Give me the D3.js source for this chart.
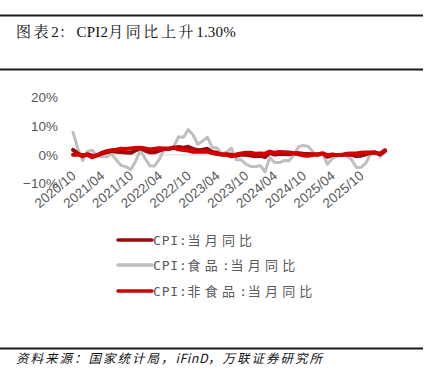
<!DOCTYPE html>
<html><head><meta charset="utf-8">
<script src="https://cdn.jsdelivr.net/npm/d3@7/dist/d3.min.js"></script>
<style>body{margin:0;background:#fff}svg{display:block}</style>
</head><body>
<script>
// ---- data ----
const startYear = 2020, startMonth = 9, nMonths = 66; // 2020/09 .. 2026/02
const months = [];
for (let i = 0; i < nMonths; i++) {
  const m = startMonth - 1 + i;
  const y = startYear + Math.floor(m / 12), mm = (m % 12) + 1;
  months.push(y + "/" + String(mm).padStart(2, "0"));
}
const tickLabels = ["2020/10","2021/04","2021/10","2022/04","2022/10","2023/04","2023/10","2024/04","2024/10","2025/04","2025/10"];
const yTicks = [-10, 0, 10, 20];
const cpi = [1.7,0.5,-0.5,0.2,
  -0.3,-0.2,0.4,0.9,1.3,1.1,1.0,0.8,0.7,1.5,2.3,1.5,
  0.9,0.9,1.5,2.1,2.1,2.5,2.7,2.5,2.8,2.1,1.6,1.8,
  2.1,1.0,0.7,0.1,0.2,0.0,-0.3,0.1,0.0,-0.2,-0.5,-0.3,
  -0.8,0.7,0.1,0.3,0.3,0.2,0.5,0.6,0.4,0.3,0.2,0.1,
  0.5,-0.7,-0.1,-0.1,-0.1,0.1,0.0,-0.4,-0.3,0.2,0.7,0.8,
  0.2,1.3];
const food = [7.9,2.2,-2.0,1.2,
  1.6,-0.2,-0.7,-0.7,0.3,-1.7,-3.7,-4.1,-5.2,-2.4,1.6,-1.2,
  -3.8,-3.9,-1.5,1.9,2.3,2.9,6.3,6.1,8.8,7.0,3.7,4.8,
  6.2,2.6,2.4,0.4,1.0,2.3,-1.7,-1.7,-3.2,-4.0,-4.2,-3.7,
  -5.9,-0.9,-2.7,-2.7,-2.0,-2.1,0.0,2.8,3.3,2.9,1.0,-0.5,
  0.4,-3.3,-1.4,-0.2,-0.2,-0.3,-1.6,-4.3,-4.4,-2.9,0.2,1.1,
  -0.7,1.7];
const nonfood = [0.0,0.0,-0.1,0.0,
  -0.8,-0.2,0.7,1.3,1.6,1.8,2.1,2.0,2.2,2.4,2.5,2.2,
  1.9,2.1,2.3,2.2,2.1,2.5,1.9,1.7,1.5,1.1,1.1,1.1,
  1.2,0.6,0.3,0.1,0.0,-0.5,0.1,0.5,0.7,0.7,0.4,0.5,
  0.4,1.1,0.7,1.0,0.9,0.8,0.6,0.2,-0.2,-0.3,0.0,0.2,
  0.5,-0.1,0.1,-0.1,0.0,0.4,0.5,0.5,0.7,0.8,0.8,0.7,
  0.4,1.6];
const seriesNames = ["CPI:当月同比","CPI:食品:当月同比","CPI:非食品:当月同比"];
const seriesColors = ["#9E0B0F","#BFBFBF","#D00000"];
const title = "图表2：CPI2月同比上升1.30%";
const source = "资料来源：国家统计局，iFinD，万联证券研究所";

// ---- drawing ----
const W = 435, H = 391;
const svg = d3.select("body").append("svg").attr("width", W).attr("height", H);

// split text into ASCII / non-ASCII runs
function runs(s) {
  const out = [];
  for (const ch of s) {
    const a = ch.charCodeAt(0) < 128;
    if (out.length && out[out.length-1].a === a) out[out.length-1].t += ch;
    else out.push({a, t: ch});
  }
  return out;
}
function richText(sel, s, asciiSpacing, cjkSpacing) {
  runs(s).forEach(r => sel.append("tspan").text(r.t)
    .attr("letter-spacing", r.a ? asciiSpacing : cjkSpacing));
}

// rules
[15.5, 69.5, 348.5].forEach(yy =>
  svg.append("line").attr("x1",0).attr("x2",423).attr("y1",yy).attr("y2",yy)
     .attr("stroke","#1a1a1a").attr("stroke-width",2));

const tt = svg.append("text").attr("x",16).attr("y",36.5)
  .attr("font-family","'Liberation Serif','Noto Serif CJK SC','Noto Sans CJK SC',serif")
  .attr("font-size",15).attr("fill","#111");
richText(tt, title, 0.2, 2.6);

const st = svg.append("text").attr("x",16).attr("y",362.5)
  .attr("font-family","'Noto Sans CJK SC',sans-serif").attr("font-style","italic")
  .attr("font-size",12.5).attr("fill","#111");
richText(st, source, 0.5, 2);

const x = d3.scaleLinear().domain([0, nMonths - 1]).range([73, 385]);
const y = d3.scaleLinear().domain([-10, 20]).range([183.5, 97.5]);

// y axis
const yAx = svg.append("g").attr("transform","translate(58,0)")
  .call(d3.axisLeft(y).tickValues(yTicks).tickSize(0).tickPadding(0)
        .tickFormat(d => (d < 0 ? "\u2212" + Math.abs(d) : d) + "%"));
yAx.select(".domain").remove();
yAx.selectAll("text").attr("font-family","'Liberation Sans',Arial,sans-serif")
  .attr("font-size",13.5).attr("fill","#595959");

// zero line
svg.append("line").attr("x1",x(0)).attr("x2",x(nMonths-1)).attr("y1",y(0)).attr("y2",y(0))
  .attr("stroke","#D9D9D9").attr("stroke-width",1);

// x axis
const tickIdx = tickLabels.map(t => months.indexOf(t));
const xAx = svg.append("g").attr("transform","translate(0,176)")
  .call(d3.axisBottom(x).tickValues(tickIdx).tickSize(0).tickFormat(i => months[i]));
xAx.select(".domain").remove();
xAx.selectAll("text").attr("font-family","'Liberation Sans',Arial,sans-serif")
  .attr("font-size",13.5).attr("fill","#595959")
  .attr("text-anchor","end").attr("x",-2).attr("y",0).attr("dy",0)
  .attr("transform","rotate(-40)");

// lines
const line = d3.line().x((d,i) => x(i)).y(d => y(d)).curve(d3.curveLinear);
const data = [cpi, food, nonfood];
const order = [1, 0, 2];
const widths = [4, 3, 4];
order.forEach(k => {
  svg.append("path").datum(data[k]).attr("d", line).attr("fill","none")
    .attr("stroke", seriesColors[k]).attr("stroke-width", widths[k])
    .attr("stroke-linejoin","round").attr("stroke-linecap","round");
});

// legend
const legY = [240, 265, 291];
seriesNames.forEach((n, k) => {
  svg.append("line").attr("x1",118).attr("x2",152).attr("y1",legY[k]).attr("y2",legY[k])
    .attr("stroke", seriesColors[k]).attr("stroke-width",3.5).attr("stroke-linecap","round");
  const lt = svg.append("text").attr("x",153).attr("y",legY[k]+5)
    .attr("font-family","'DejaVu Sans Mono','Noto Sans CJK SC',monospace")
    .attr("font-size",13).attr("fill","#595959");
  richText(lt, n, 0.8, 4.2);
});
</script>
</body></html>
